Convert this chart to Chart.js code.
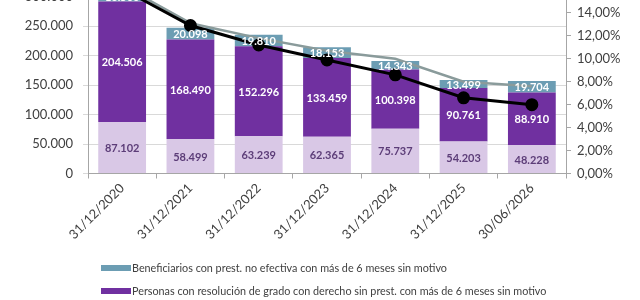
<!DOCTYPE html>
<html>
<head>
<meta charset="utf-8">
<script src="https://cdn.jsdelivr.net/npm/chart.js@4/dist/chart.umd.min.js"></script>
<style>
  body { margin: 0; background: #fff; }
  #wrap { position: relative; width: 640px; height: 300px; overflow: hidden; font-family: Lato, sans-serif; }
  #chart { position: absolute; left: 0; top: -60px; }
  #legend { position: absolute; left: 101px; top: 256px; }
  .item { display: flex; align-items: center; height: 23px; font-size: 10.8px; color: #404040; }
  .swatch { width: 30px; height: 6px; margin-right: 1px; }
</style>
</head>
<body>
<div id="wrap">
  <canvas id="chart" width="640" height="360"></canvas>
  <div id="legend"></div>
</div>
<script>
// data
var categories = ['31/12/2020', '31/12/2021', '31/12/2022', '31/12/2023', '31/12/2024', '31/12/2025', '30/06/2026'];
var noEfectiva = [16500, 20098, 19810, 18153, 14343, 13499, 19704];
var sinPrestacion = [204506, 168490, 152296, 133459, 100398, 90761, 88910];
var enTramite = [87102, 58499, 63239, 62365, 75737, 54203, 48228];
var pctTotal = [16.4, 13.1, 11.8, 10.7, 10.0, 8.0, 7.6];
var pctSinMotivo = [16.1, 12.9, 11.2, 9.9, 8.6, 6.6, 6.0];

var seriesNames = [
  'Beneficiarios con prest. no efectiva con más de 6 meses sin motivo',
  'Personas con resolución de grado con derecho sin prest. con más de 6 meses sin motivo',
  'Personas con resolución de grado con derecho sin prest. en trámite',
  '% total sobre personas con derecho',
  '% sin motivo sobre personas con derecho'
];

function miles(v) {
  return String(Math.round(v)).replace(/\B(?=(\d{3})+(?!\d))/g, '.');
}

//  value labels inside the bar segments, on top of everything
var barLabels = {
  id: 'barLabels',
  afterDatasetsDraw: function(chart) {
    var ctx = chart.ctx;
    ctx.save();
    ctx.font = 'bold 11px Lato';
    ctx.textAlign = 'center';
    ctx.textBaseline = 'middle';
    chart.data.datasets.forEach(function(ds, i) {
      if (ds.type === 'line') return;
      ctx.fillStyle = ds.labelColor;
      chart.getDatasetMeta(i).data.forEach(function(bar, j) {
        ctx.fillText(miles(ds.data[j]), bar.x, (bar.y + bar.base) / 2 + 1);
      });
    });
    ctx.restore();
  }
};

Chart.defaults.font.family = 'Lato';
Chart.defaults.color = '#404040';

var chart = new Chart(document.getElementById('chart'), {
  type: 'bar',
  data: {
    labels: categories,
    datasets: [
      {
        type: 'line', label: seriesNames[4], data: pctSinMotivo, yAxisID: 'y1', order: 0,
        borderColor: '#000', backgroundColor: '#000', borderWidth: 3,
        pointRadius: 5, pointBackgroundColor: '#000', tension: 0
      },
      {
        type: 'line', label: seriesNames[3], data: pctTotal, yAxisID: 'y1', order: 1,
        borderColor: '#8a9b9b', backgroundColor: '#8a9b9b', borderWidth: 2.5,
        pointRadius: 0, tension: 0
      },
      {
        label: seriesNames[2], data: enTramite, backgroundColor: '#d9c8e6',
        labelColor: '#5c3d78', order: 2
      },
      {
        label: seriesNames[1], data: sinPrestacion, backgroundColor: '#7030a0',
        labelColor: '#ffffff', order: 2
      },
      {
        label: seriesNames[0], data: noEfectiva, backgroundColor: '#6c9db3',
        labelColor: '#ffffff', order: 2
      }
    ]
  },
  options: {
    responsive: false,
    animation: false,
    datasets: { bar: { categoryPercentage: 1, barPercentage: 0.7 } },
    layout: { padding: { top: 27, left: 0, right: 0, bottom: 56.5 } },
    plugins: { legend: { display: false }, tooltip: { enabled: false } },
    scales: {
      x: {
        stacked: true,
        afterFit: function(s) { s.height = 70; },
        grid: { offset: true, drawOnChartArea: false, tickLength: 5, color: '#a6a6a6' },
        border: { color: '#a6a6a6' },
        ticks: { maxRotation: 45, minRotation: 45, font: { size: 13 }, color: '#404040', padding: 2 }
      },
      y: {
        stacked: true,
        min: 0, max: 350000,
        afterFit: function(s) { s.width = 88; },
        grid: { color: '#d9d9d9', tickLength: 5 },
        border: { color: '#a6a6a6' },
        ticks: { stepSize: 50000, font: { size: 13 }, padding: 10, callback: function(v) { return miles(v); } }
      },
      y1: {
        position: 'right',
        min: 0, max: 18,
        afterFit: function(s) { s.width = 74; },
        grid: { drawOnChartArea: false, tickLength: 5, color: '#a6a6a6' },
        border: { color: '#a6a6a6' },
        ticks: { stepSize: 2, font: { size: 13 }, padding: 6, callback: function(v) { return v.toFixed(2).replace('.', ',') + '%'; } }
      }
    }
  },
  plugins: [barLabels]
});

// legend, only the rows that fit in the picture
(function() {
  var legend = document.getElementById('legend');
  [4, 3].forEach(function(i) {
    var ds = chart.data.datasets[i];
    var row = document.createElement('div');
    row.className = 'item';
    var sw = document.createElement('span');
    sw.className = 'swatch';
    sw.style.background = ds.backgroundColor;
    var txt = document.createElement('span');
    txt.textContent = ds.label;
    row.appendChild(sw);
    row.appendChild(txt);
    legend.appendChild(row);
  });
})();
</script>
</body>
</html>
